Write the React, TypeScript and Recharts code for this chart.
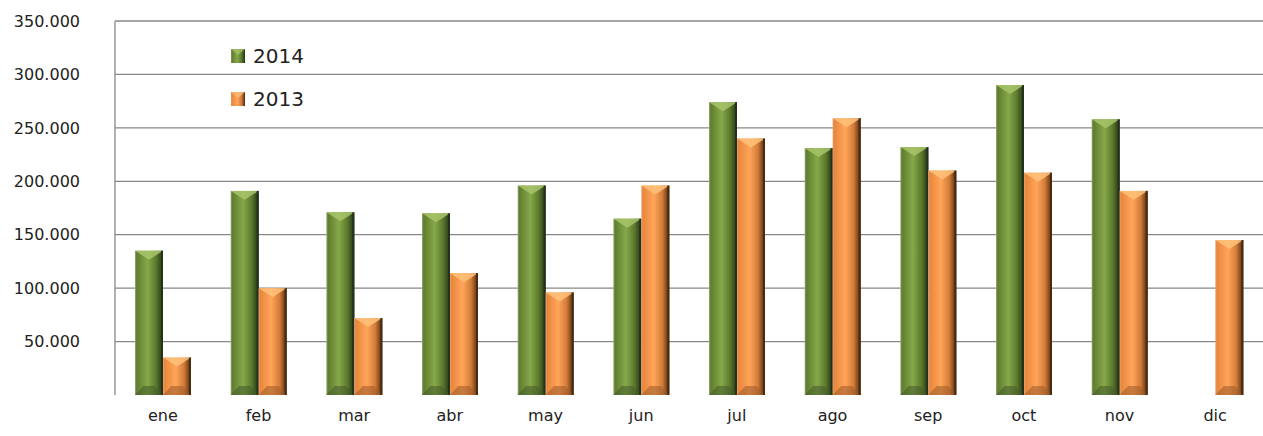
import { BarChart, Bar, XAxis, YAxis, CartesianGrid } from "recharts";

const months = ["ene", "feb", "mar", "abr", "may", "jun", "jul", "ago", "sep", "oct", "nov", "dic"];
const values2014: (number | null)[] = [135000, 191000, 171000, 170000, 196000, 165000, 274000, 231000, 232000, 290000, 258000, null];
const values2013: number[] = [35000, 100000, 72000, 114000, 96000, 196000, 240000, 259000, 210000, 208000, 191000, 145000];
const yTicks = [50000, 100000, 150000, 200000, 250000, 300000, 350000];
const legendItems = [
  { label: "2014", kind: "green" as const },
  { label: "2013", kind: "orange" as const },
];

const data = months.map((m, i) => ({ month: m, y2014: values2014[i], y2013: values2013[i] }));

const FONT = "'DejaVu Sans', sans-serif";

const PALETTE = {
  green: { id: "gGreen", light: "#a8c46a", dark: "#25321a", bottom: "#44592a" },
  orange: { id: "gOrange", light: "#ffc27a", dark: "#4a2a10", bottom: "#9a5a28" },
};

function formatThousands(v: number): string {
  return String(v).replace(/\B(?=(\d{3})+(?!\d))/g, ".");
}

function makeBevel(kind: "green" | "orange") {
  const p = PALETTE[kind];
  return (props: any) => {
    const { x, y, width, height } = props;
    if (!height || height <= 0 || width <= 0) return <g />;
    const tip = Math.min(width * 0.32, height / 2);
    const b = Math.min(9, height / 3);
    return (
      <g>
        <rect x={x} y={y} width={width} height={height} fill={`url(#${p.id})`} />
        <polygon
          points={`${x},${y} ${x + width},${y} ${x + width / 2},${y + tip}`}
          fill={p.light}
          opacity={0.85}
        />
        <polygon
          points={`${x},${y + height} ${x + width},${y + height} ${x + width * 0.7},${y + height - b} ${x + width * 0.3},${y + height - b}`}
          fill={p.bottom}
          opacity={0.55}
        />
        <rect x={x + width - 2} y={y} width={2} height={height} fill={p.dark} />
      </g>
    );
  };
}

function LegendBox() {
  return (
    <div style={{ position: "absolute", left: 231, top: 34, fontFamily: FONT }}>
      {legendItems.map((it) => (
        <div key={it.label} style={{ display: "flex", alignItems: "center", height: 43 }}>
          <svg width={14} height={14} style={{ marginRight: 8 }}>
            <rect x={0} y={0} width={14} height={14} fill={`url(#${PALETTE[it.kind].id})`} />
            <polygon points="0,0 14,0 7,6" fill={PALETTE[it.kind].light} opacity={0.7} />
          </svg>
          <span style={{ fontSize: 20, color: "#222" }}>{it.label}</span>
        </div>
      ))}
    </div>
  );
}

export default function App() {
  return (
    <div style={{ position: "absolute", left: 0, top: 0, width: 1263, height: 436, background: "#fff" }}>
      <svg width={0} height={0} style={{ position: "absolute" }}>
        <defs>
          <linearGradient id="gGreen" x1="0" y1="0" x2="1" y2="0">
            <stop offset="0" stopColor="#9aaa82" />
            <stop offset="0.06" stopColor="#5f7d2e" />
            <stop offset="0.45" stopColor="#86a84a" />
            <stop offset="0.75" stopColor="#5b7a2c" />
            <stop offset="1" stopColor="#25321a" />
          </linearGradient>
          <linearGradient id="gOrange" x1="0" y1="0" x2="1" y2="0">
            <stop offset="0" stopColor="#e8a070" />
            <stop offset="0.06" stopColor="#e8873c" />
            <stop offset="0.45" stopColor="#ffa55a" />
            <stop offset="0.75" stopColor="#d37c38" />
            <stop offset="1" stopColor="#4a2a10" />
          </linearGradient>
        </defs>
      </svg>
      <BarChart
        width={1263}
        height={436}
        data={data}
        margin={{ top: 21, right: 0, bottom: 0, left: 0 }}
        barGap={0}
      >
        <CartesianGrid vertical={false} stroke="#888" strokeWidth={1.3} horizontalValues={yTicks} />
        <XAxis
          dataKey="month"
          tickLine={false}
          axisLine={false}
          height={41}
          tickMargin={9}
          tick={{ fontSize: 16, fill: "#222", fontFamily: FONT }}
        />
        <YAxis
          width={115}
          domain={[0, 350000]}
          ticks={yTicks}
          tickLine={false}
          axisLine={{ stroke: "#888", strokeWidth: 1.3 }}
          tickMargin={29}
          tickFormatter={(v) => formatThousands(Number(v))}
          tick={{ fontSize: 16, fill: "#222", fontFamily: FONT }}
        />
        <Bar dataKey="y2014" name="2014" barSize={28} fill="#76923c" shape={makeBevel("green")} isAnimationActive={false} />
        <Bar dataKey="y2013" name="2013" barSize={28} fill="#f79646" shape={makeBevel("orange")} isAnimationActive={false} />
      </BarChart>
      <LegendBox />
    </div>
  );
}
